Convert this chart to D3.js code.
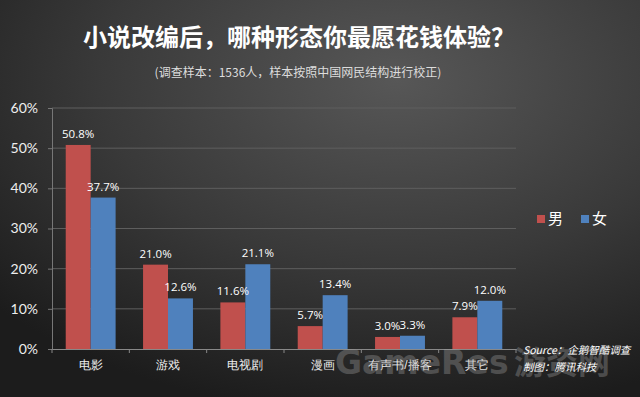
<!DOCTYPE html>
<html>
<head>
<meta charset="utf-8">
<script src="https://cdn.jsdelivr.net/npm/d3@7"></script>
<style>
  html, body { margin: 0; padding: 0; background: #2a2a2a; }
  svg { display: block; font-family: "Noto Sans CJK SC", "Noto Sans", sans-serif; }
</style>
</head>
<body>
<svg id="chart" width="640" height="397"></svg>
<script>
// categories and series values (percent)
const categories = ["电影", "游戏", "电视剧", "漫画", "有声书/播客", "其它"];
const male = [50.8, 21.0, 11.6, 5.7, 3.0, 7.9];
const female = [37.7, 12.6, 21.1, 13.4, 3.3, 12.0];
const seriesNames = ["男", "女"];
const yTicks = [0, 10, 20, 30, 40, 50, 60];

const colors = { "男": "#c0504d", "女": "#4f81bd" };

const svg = d3.select("#chart");
const W = 640, H = 397;
const margin = { top: 108, right: 124, bottom: 48, left: 52 };
const width = W - margin.left - margin.right;
const height = H - margin.top - margin.bottom;

// background
const defs = svg.append("defs");
const grad = defs.append("radialGradient")
    .attr("id", "bg")
    .attr("cx", "62%").attr("cy", "20%").attr("r", "85%");
grad.append("stop").attr("offset", "0%").attr("stop-color", "#575757");
grad.append("stop").attr("offset", "55%").attr("stop-color", "#393939");
grad.append("stop").attr("offset", "100%").attr("stop-color", "#1c1c1c");
svg.append("rect").attr("width", W).attr("height", H).attr("fill", "url(#bg)");

// title
svg.append("text")
    .attr("x", 299).attr("y", 46)
    .attr("text-anchor", "middle")
    .attr("fill", "#ffffff")
    .style("font-size", "24px")
    .style("font-weight", "bold")
    .text("小说改编后，哪种形态你最愿花钱体验？");

svg.append("text")
    .attr("x", 298).attr("y", 77)
    .attr("text-anchor", "middle")
    .attr("fill", "#dddddd")
    .style("font-size", "12px")
    .text("(调查样本：1536人，样本按照中国网民结构进行校正)");

const g = svg.append("g").attr("transform", `translate(${margin.left},${margin.top})`);

const x0 = d3.scaleBand().domain(categories).range([0, width]).paddingInner(0).paddingOuter(0);
const x1 = d3.scaleBand().domain(seriesNames).range([0, x0.bandwidth()]).paddingInner(0).paddingOuter(0.55);
const y = d3.scaleLinear().domain([0, 60]).range([height, 0]);

// gridlines
g.append("g")
    .selectAll("line")
    .data(yTicks.filter(t => t > 0))
    .enter().append("line")
    .attr("x1", 0).attr("x2", width)
    .attr("y1", d => y(d)).attr("y2", d => y(d))
    .attr("stroke", "#5e5e5e")
    .attr("stroke-width", 1);

// y axis
const yAxis = d3.axisLeft(y).tickValues(yTicks).tickFormat(d => d + "%").tickSize(4).tickPadding(10);
const yg = g.append("g").call(yAxis);
yg.select(".domain").attr("stroke", "#777");
yg.selectAll(".tick line").attr("stroke", "#777");
yg.selectAll(".tick text").attr("fill", "#eeeeee").style("font-size", "14px").style("font-family", "Lato, 'Noto Sans', sans-serif");

// x axis
const xAxis = d3.axisBottom(x0).tickSize(0).tickPadding(11);
const xg = g.append("g").attr("transform", `translate(0,${height})`).call(xAxis);
xg.select(".domain").attr("stroke", "#888");
xg.selectAll(".tick text").attr("fill", "#eeeeee").style("font-size", "12px");
// category separators
xg.selectAll(".sep")
    .data(categories.concat(["end"]))
    .enter().append("line")
    .attr("x1", (d, i) => i * x0.bandwidth()).attr("x2", (d, i) => i * x0.bandwidth())
    .attr("y1", 0).attr("y2", 4)
    .attr("stroke", "#888");

// bars
const rows = categories.map((c, i) => ({ cat: c, values: [
    { key: "男", value: male[i] },
    { key: "女", value: female[i] }
] }));

const groups = g.selectAll(".grp")
    .data(rows)
    .enter().append("g")
    .attr("transform", d => `translate(${x0(d.cat)},0)`);

groups.selectAll("rect")
    .data(d => d.values)
    .enter().append("rect")
    .attr("x", d => x1(d.key))
    .attr("y", d => y(d.value))
    .attr("width", x1.bandwidth())
    .attr("height", d => height - y(d.value))
    .attr("fill", d => colors[d.key]);

groups.selectAll(".lbl")
    .data(d => d.values)
    .enter().append("text")
    .attr("x", d => x1(d.key) + x1.bandwidth() / 2)
    .attr("y", d => y(d.value) - 7)
    .attr("text-anchor", "middle")
    .attr("fill", "#ffffff")
    .style("font-size", "11.5px")
    .style("font-family", "'Open Sans', 'Noto Sans', sans-serif")
    .text(d => d.value.toFixed(1) + "%");

// legend
const legend = svg.append("g").attr("transform", "translate(537,215)");
seriesNames.forEach((name, i) => {
    const lg = legend.append("g").attr("transform", `translate(${i * 44},0)`);
    lg.append("rect").attr("width", 8).attr("height", 8).attr("fill", colors[name]);
    lg.append("text").attr("x", 11).attr("y", 9).attr("fill", "#ffffff")
        .style("font-size", "15px").text(name);
});

// watermark
svg.append("text")
    .attr("x", 335).attr("y", 374)
    .attr("fill", "#a0a0a0")
    .attr("opacity", 0.35)
    .style("font-size", "33px")
    .style("font-weight", "bold")
    .style("font-family", "'DejaVu Sans', sans-serif")
    .text("GameRes");
svg.append("text")
    .attr("x", 514).attr("y", 374)
    .attr("fill", "#a0a0a0")
    .attr("opacity", 0.35)
    .style("font-size", "32px")
    .style("font-weight", "bold")
    .text("游资网");

// source
svg.append("text")
    .attr("x", 523).attr("y", 354)
    .attr("fill", "#ffffff")
    .style("font-size", "10.5px")
    .style("font-style", "italic")
    .text("Source：企鹅智酷调查");
svg.append("text")
    .attr("x", 523).attr("y", 371)
    .attr("fill", "#ffffff")
    .style("font-size", "10.5px")
    .style("font-style", "italic")
    .text("制图：腾讯科技");
</script>
</body>
</html>
